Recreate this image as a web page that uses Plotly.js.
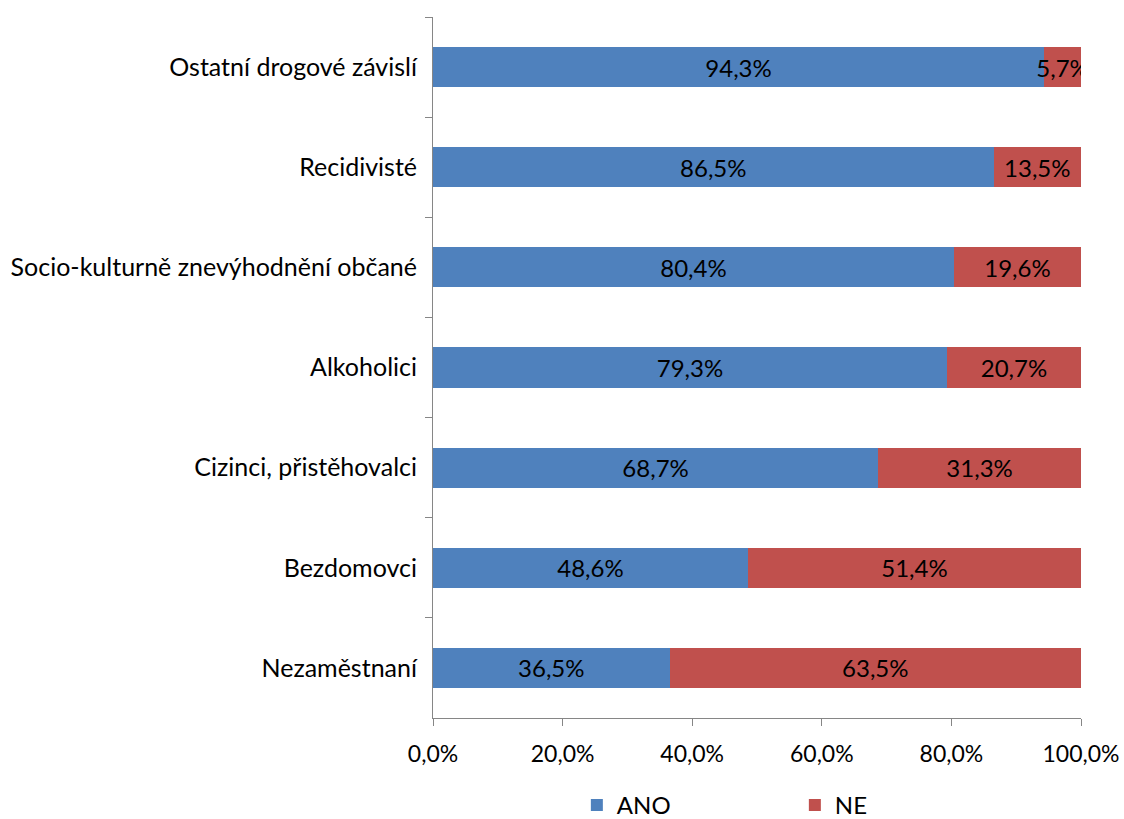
<!DOCTYPE html>
<html>
<head>
<meta charset="utf-8">
<script src="https://cdn.plot.ly/plotly-3.0.1.min.js"></script>
<style>html,body{margin:0;padding:0;background:#fff;}#chart{width:1124px;height:819px;}</style>
</head>
<body>
<div id="chart"></div>
<script>
const categories = [
  "Ostatní drogové závislí",
  "Recidivisté",
  "Socio-kulturně znevýhodnění občané",
  "Alkoholici",
  "Cizinci, přistěhovalci",
  "Bezdomovci",
  "Nezaměstnaní"
];
const ano = [0.943, 0.865, 0.804, 0.793, 0.687, 0.486, 0.365];
const ne = [0.057, 0.135, 0.196, 0.207, 0.313, 0.514, 0.635];
const seriesNames = ["ANO", "NE"];
const xTickVals = [0, 0.2, 0.4, 0.6, 0.8, 1.0];

const FONT = "Lato, 'Open Sans', sans-serif";

function mk(name, vals, color) {
  return {
    type: "bar",
    orientation: "h",
    name: name,
    y: categories,
    x: vals,
    marker: {color: color},
    text: vals,
    texttemplate: "%{x:.1%}",
    textposition: "inside",
    insidetextanchor: "middle",
    constraintext: "none",
    textangle: 0,
    textfont: {family: FONT, size: 24, color: "#000"},
    hoverinfo: "none"
  };
}

const data = [
  mk(seriesNames[0], ano, "#4F81BD"),
  mk(seriesNames[1], ne, "#C0504D")
];

const layout = {
  width: 1124,
  height: 819,
  margin: {l: 433, r: 43, t: 17, b: 101},
  barmode: "stack",
  bargap: 0.6,
  separators: ", ",
  paper_bgcolor: "#fff",
  plot_bgcolor: "#fff",
  font: {family: FONT, size: 24, color: "#000"},
  showlegend: true,
  legend: {
    orientation: "h",
    xref: "paper",
    x: 0.222,
    xanchor: "left",
    yref: "container",
    y: 0.044,
    yanchor: "top",
    entrywidth: 173,
    entrywidthmode: "pixels",
    font: {family: FONT, size: 24, color: "#000"},
    traceorder: "normal"
  },
  xaxis: {
    range: [0, 1],
    tickvals: xTickVals,
    tickformat: ".1%",
    showgrid: false,
    zeroline: false,
    showline: true,
    linecolor: "#868686",
    linewidth: 1,
    ticks: "outside",
    ticklen: 7,
    tickcolor: "#868686",
    ticklabelstandoff: 8,
    tickfont: {family: FONT, size: 23, color: "#000"},
    fixedrange: true
  },
  yaxis: {
    type: "category",
    autorange: "reversed",
    showgrid: false,
    zeroline: false,
    showline: true,
    linecolor: "#868686",
    linewidth: 1,
    ticks: "outside",
    tickson: "boundaries",
    ticklen: 7,
    tickcolor: "#868686",
    ticklabelstandoff: 10,
    tickfont: {family: FONT, size: 25, color: "#000"},
    fixedrange: true
  }
};

Plotly.newPlot("chart", data, layout, {displayModeBar: false, staticPlot: true});
</script>
</body>
</html>
